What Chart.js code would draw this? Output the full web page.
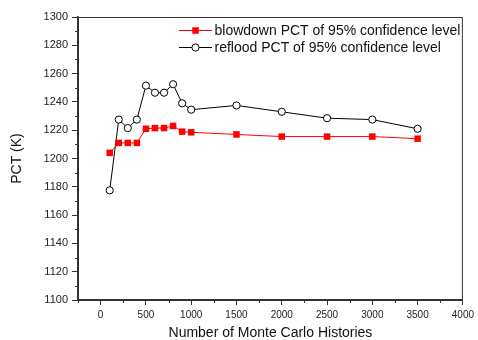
<!DOCTYPE html>
<html>
<head>
<meta charset="utf-8">
<script src="https://cdn.jsdelivr.net/npm/chart.js@4"></script>
<style>
  body { margin: 0; background: #fff; }
  canvas { display: block; }
</style>
</head>
<body>
<canvas id="chart_pct" width="478" height="340"></canvas>
<script>
// values
const histories = [100, 200, 300, 400, 500, 600, 700, 800, 900, 1000, 1500, 2000, 2500, 3000, 3500];
const blowdownPct = [1204, 1211, 1211, 1211, 1221, 1221.5, 1221.5, 1223, 1219, 1218.5, 1217, 1215.5, 1215.5, 1215.5, 1214];
const refloodPct = [1177.5, 1227.5, 1221.5, 1227.5, 1251.5, 1246.5, 1246.5, 1252.5, 1239, 1234.5, 1237.5, 1233, 1228.5, 1227.5, 1221];

const xTicks = [0, 500, 1000, 1500, 2000, 2500, 3000, 3500, 4000];
const yTicks = [1100, 1120, 1140, 1160, 1180, 1200, 1220, 1240, 1260, 1280, 1300];

const axisColor = '#333';
const fontFamily = '"Liberation Sans", Arial, sans-serif';

const toPoints = ys => histories.map((x, i) => ({ x: x, y: ys[i] }));

// minor ticks half way between the labelled ones
const midpoints = t => t.slice(1).map((v, i) => (v + t[i]) / 2);

const frame = {
    id: 'frame',
    afterDraw: chart => {
        const ctx = chart.ctx;
        const a = chart.chartArea;
        const xs = chart.scales.x;
        const ys = chart.scales.y;
        ctx.save();
        ctx.strokeStyle = axisColor;
        ctx.lineWidth = 1;
        ctx.strokeRect(a.left + 0.5, a.top + 0.5, a.right - a.left - 1, a.bottom - a.top);

        ctx.beginPath();
        midpoints([-500].concat(xTicks)).forEach(v => {
            if (v < xs.min) return;
            const px = Math.round(xs.getPixelForValue(v)) + 0.5;
            ctx.moveTo(px, a.bottom);
            ctx.lineTo(px, a.bottom + 3);
        });
        midpoints(yTicks).forEach(v => {
            const py = Math.round(ys.getPixelForValue(v)) + 0.5;
            ctx.moveTo(a.left, py);
            ctx.lineTo(a.left - 3, py);
        });
        ctx.stroke();

        // legend inside the plot, top right
        ctx.font = '14px ' + fontFamily;
        ctx.textBaseline = 'middle';
        chart.data.datasets.forEach((ds, i) => {
            const y = 30 + i * 17;
            ctx.strokeStyle = ds.borderColor;
            ctx.lineWidth = 1;
            ctx.beginPath();
            ctx.moveTo(179, y + 0.5);
            ctx.lineTo(212, y + 0.5);
            ctx.stroke();
            ctx.fillStyle = ds.pointBackgroundColor;
            ctx.strokeStyle = ds.pointBorderColor;
            Chart.helpers.drawPoint(ctx, {
                pointStyle: ds.pointStyle,
                radius: ds.pointRadius,
                borderWidth: ds.pointBorderWidth,
                rotation: 0
            }, 195.5, y + 0.5);
            ctx.fillStyle = '#111';
            ctx.fillText(ds.label, 214.5, y + 1);
        });
        ctx.restore();
    }
};

const data_pct = {
    datasets: [{
        label: 'blowdown PCT of 95% confidence level',
        data: toPoints(blowdownPct),
        borderColor: '#FF0000',
        borderWidth: 1,
        pointStyle: 'rect',
        pointRadius: 4.6,
        pointBackgroundColor: '#FF0000',
        pointBorderColor: '#FF0000',
        pointBorderWidth: 0,
        showLine: true
    }, {
        label: 'reflood PCT of 95% confidence level',
        data: toPoints(refloodPct),
        borderColor: '#000000',
        borderWidth: 1,
        pointStyle: 'circle',
        pointRadius: 3.6,
        pointBackgroundColor: '#FFFFFF',
        pointBorderColor: '#000000',
        pointBorderWidth: 1,
        showLine: true
    }]
};

const config_pct = {
    type: 'scatter',
    data: data_pct,
    plugins: [frame],
    options: {
        responsive: false,
        animation: false,
        layout: { padding: { left: 0, top: 17, right: 11, bottom: 0 } },
        plugins: {
            legend: { display: false },
            tooltip: { enabled: false }
        },
        scales: {
            x: {
                type: 'linear',
                min: -250,
                max: 4000,
                afterBuildTicks: s => { s.ticks = xTicks.map(v => ({ value: v })); },
                afterFit: s => { s.height = 40; },
                grid: { drawOnChartArea: false, tickLength: 5, color: axisColor },
                border: { color: axisColor, width: 1.5 },
                ticks: {
                    padding: 4,
                    color: '#222',
                    font: { family: fontFamily, size: 10 },
                    callback: v => String(v)
                },
                title: {
                    display: true,
                    text: 'Number of Monte Carlo Histories',
                    color: '#111',
                    font: { family: fontFamily, size: 14 },
                    padding: { top: 0, bottom: -2 }
                }
            },
            y: {
                min: 1100,
                max: 1300,
                afterBuildTicks: s => { s.ticks = yTicks.map(v => ({ value: v })); },
                afterFit: s => { s.width = 78; },
                grid: { drawOnChartArea: false, tickLength: 6, color: axisColor },
                border: { color: axisColor, width: 1.5 },
                ticks: {
                    padding: 4,
                    color: '#222',
                    font: { family: fontFamily, size: 11 },
                    callback: v => String(v)
                },
                title: {
                    display: true,
                    text: 'PCT (K)',
                    color: '#111',
                    font: { family: fontFamily, size: 14 },
                    padding: { top: 8.6, bottom: 0 }
                }
            }
        }
    }
};

const myChart_pct = new Chart(document.getElementById('chart_pct'), config_pct);
</script>
</body>
</html>
